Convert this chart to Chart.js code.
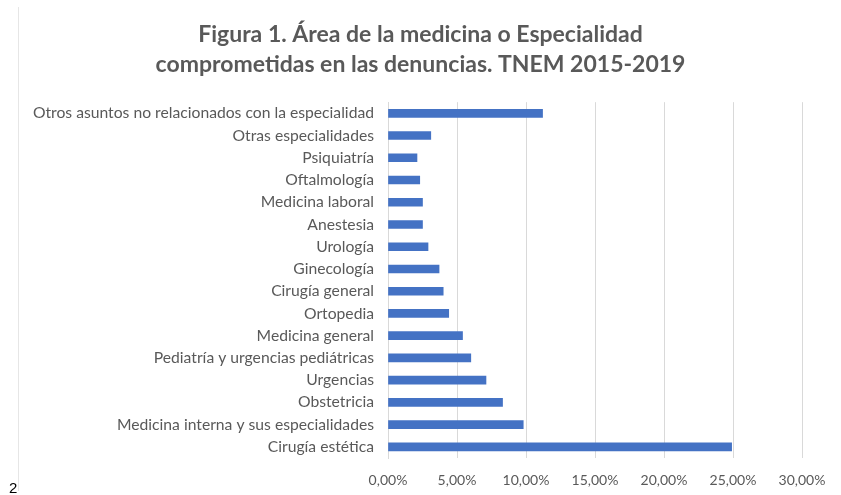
<!DOCTYPE html>
<html>
<head>
<meta charset="utf-8">
<script src="https://cdn.jsdelivr.net/npm/chart.js@4.4.1/dist/chart.umd.min.js"></script>
<style>
  html, body { margin: 0; padding: 0; background: #ffffff; }
  #wrap { position: relative; width: 841px; height: 495px; }
  #edge { position: absolute; left: 18px; top: 7px; width: 1px; height: 484px; background: #e6e6e6; }
  #pg { position: absolute; left: 9px; top: 479px; font: 15px "Liberation Sans", Arial, sans-serif; color: #000; }
  canvas { position: absolute; left: 0; top: 0; }
</style>
</head>
<body>
<div id="wrap">
  <div id="edge"></div>
  <canvas id="c" width="841" height="495"></canvas>
  <div id="pg">2</div>
</div>
<script>
const titleLines = ["Figura 1. Área de la medicina o Especialidad", "comprometidas en las denuncias. TNEM 2015-2019"];
const categories = [
  "Otros asuntos no relacionados con la especialidad",
  "Otras especialidades",
  "Psiquiatría",
  "Oftalmología",
  "Medicina laboral",
  "Anestesia",
  "Urología",
  "Ginecología",
  "Cirugía general",
  "Ortopedia",
  "Medicina general",
  "Pediatría y urgencias pediátricas",
  "Urgencias",
  "Obstetricia",
  "Medicina interna y sus especialidades",
  "Cirugía estética"
];
const percentages = [11.2, 3.1, 2.1, 2.3, 2.5, 2.5, 2.9, 3.7, 4.0, 4.4, 5.4, 6.0, 7.1, 8.3, 9.8, 24.9];
const xTicks = [0, 5, 10, 15, 20, 25, 30];

const fontFamily = "Lato, 'Open Sans', sans-serif";
const grey = "#595959";

new Chart(document.getElementById("c"), {
  type: "bar",
  data: {
    labels: categories,
    datasets: [{
      data: percentages,
      backgroundColor: "#4472c4",
      borderWidth: 0,
      barThickness: 8
    }]
  },
  options: {
    indexAxis: "y",
    responsive: false,
    animation: false,
    layout: { padding: { left: 20, right: 20, top: 0, bottom: 0 } },
    plugins: {
      legend: { display: false },
      tooltip: { enabled: false },
      title: {
        display: true,
        text: titleLines,
        color: grey,
        font: { family: fontFamily, size: 23, weight: "bold", lineHeight: 1.33 },
        padding: { top: 19, bottom: 22 }
      }
    },
    scales: {
      x: {
        min: 0,
        max: 30,
        afterBuildTicks: (s) => { s.ticks = xTicks.map(v => ({ value: v })); },
        afterFit: (s) => { s.height = 37; },
        ticks: {
          color: grey,
          font: { family: fontFamily, size: 14 },
          padding: 14,
          maxRotation: 0,
          callback: (v) => v.toFixed(2).replace(".", ",") + "%"
        },
        grid: { color: "#d9d9d9", lineWidth: 1, drawTicks: false },
        border: { display: false }
      },
      y: {
        afterFit: (s) => { s.width = 368; },
        ticks: {
          color: grey,
          font: { family: fontFamily, size: 15.7 },
          padding: 14,
          autoSkip: false
        },
        grid: { display: false, drawTicks: false },
        border: { display: true, color: "#d9d9d9", width: 1 }
      },
      yRight: {
        position: "right",
        afterFit: (s) => { s.width = 19; },
        ticks: { display: false },
        grid: { display: false, drawTicks: false },
        border: { display: false }
      }
    }
  }
});
</script>
</body>
</html>
